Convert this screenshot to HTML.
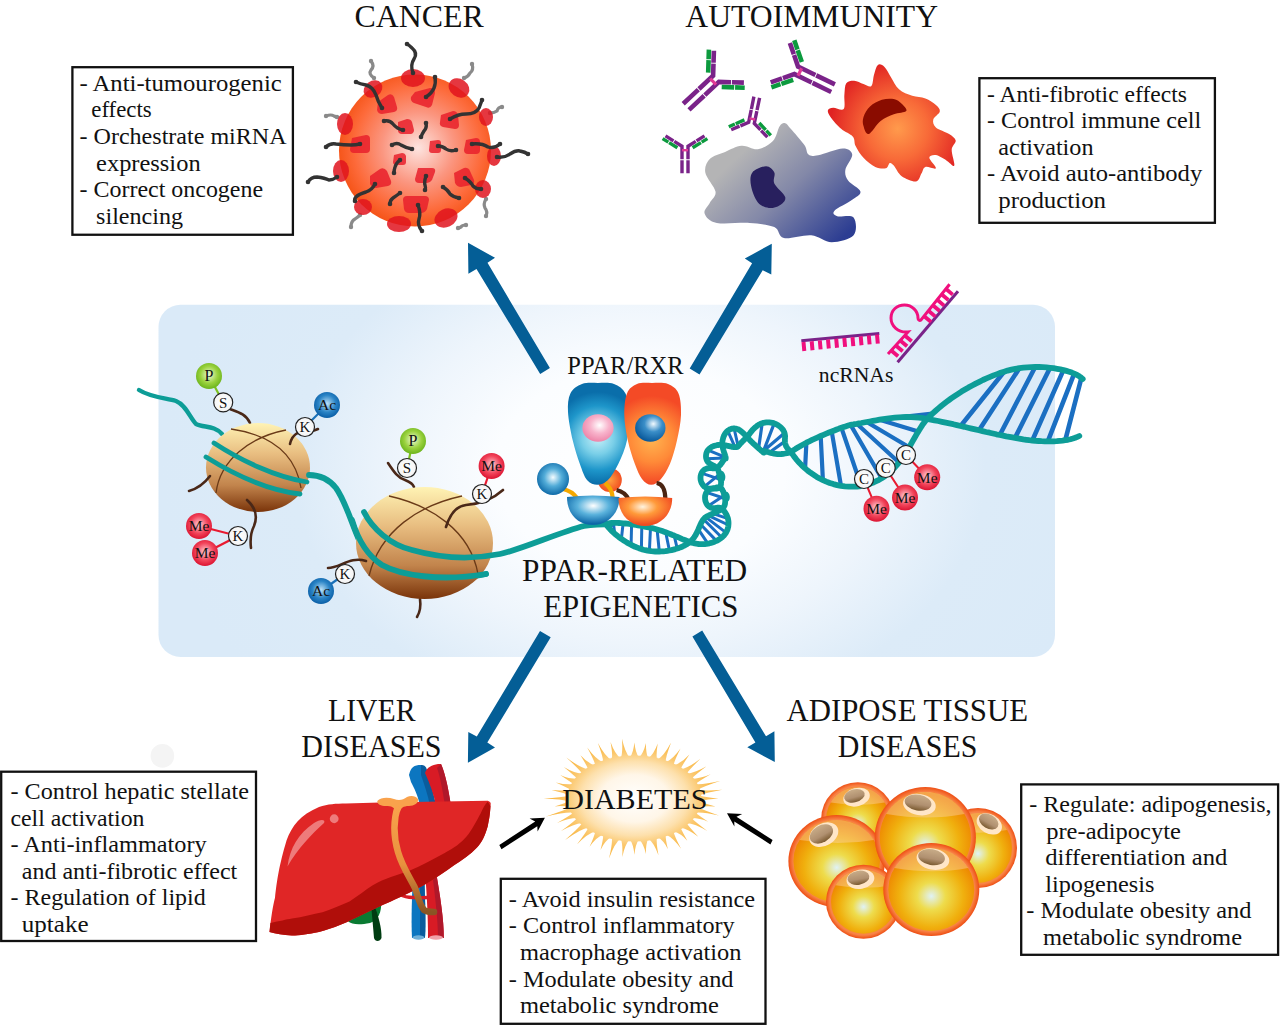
<!DOCTYPE html>
<html><head><meta charset="utf-8">
<style>
html,body{margin:0;padding:0;background:#fff;width:1280px;height:1025px;overflow:hidden}
svg{display:block}
text{font-family:"Liberation Serif",serif;fill:#111}
.bx{fill:none;stroke:#111;stroke-width:2.3}
.t{font-size:22.8px}
.h{font-size:32px}
.sm{font-size:14px;text-anchor:middle}
</style></head>
<body>
<svg width="1280" height="1025" viewBox="0 0 1280 1025">
<defs>
<radialGradient id="bg" cx="640" cy="470" r="480" gradientUnits="userSpaceOnUse" gradientTransform="translate(640 470) scale(1 0.72) translate(-640 -470)">
<stop offset="0" stop-color="#ffffff"/><stop offset="0.3" stop-color="#fbfdff"/><stop offset="0.5" stop-color="#eef5fc"/><stop offset="0.72" stop-color="#dcebf8"/><stop offset="1" stop-color="#daeaf8"/>
</radialGradient>
</defs>
<!-- BACKGROUND -->
<rect x="158.5" y="304.8" width="896.5" height="352.2" rx="22" fill="url(#bg)"/>
<circle cx="162.4" cy="755.9" r="11.8" fill="#f4f4f4"/>

<!--ILLUSTRATIONS-->
<!-- CANCER CELL -->
<g id="cancer">
<g stroke="#8a8a8a" stroke-width="3.2" fill="none" stroke-linecap="round">
<path d="M371,61 q4,5 0,9 q-3,4 3,8"/>
<path d="M472,64 q2,6 -2,9 q-2,4 -6,5"/>
<path d="M502,107 q-4,0 -5,4 q-3,2 -7,2"/>
<path d="M326,116 q5,-2 8,0 q2,1 3,1"/>
<path d="M486,199 q-3,5 -1,9 q3,4 1,8"/>
<path d="M351,227 q0,-6 4,-8 q3,-2 5,-4"/>
<path d="M466,225 q-4,0 -5,2 q-2,1 -3,1"/>
</g>
<g fill="#8a8a8a"><circle cx="371.0" cy="61.0" r="2.2"/><circle cx="374.0" cy="78.0" r="2.2"/><circle cx="472.0" cy="64.0" r="2.2"/><circle cx="464.0" cy="78.0" r="2.2"/><circle cx="502.0" cy="107.0" r="2.2"/><circle cx="490.0" cy="113.0" r="2.2"/><circle cx="326.0" cy="116.0" r="2.2"/><circle cx="337.0" cy="117.0" r="2.2"/><circle cx="486.0" cy="199.0" r="2.2"/><circle cx="486.0" cy="216.0" r="2.2"/><circle cx="351.0" cy="227.0" r="2.2"/><circle cx="360.0" cy="215.0" r="2.2"/><circle cx="466.0" cy="225.0" r="2.2"/><circle cx="458.0" cy="228.0" r="2.2"/></g>

<defs>
<radialGradient id="cg" cx="418" cy="148" r="80" gradientUnits="userSpaceOnUse">
<stop offset="0" stop-color="#fde4e0"/><stop offset="0.45" stop-color="#fb9680"/><stop offset="0.8" stop-color="#fd6a3a"/><stop offset="1" stop-color="#f55418"/>
</radialGradient>
</defs>
<circle cx="415" cy="150.5" r="76" fill="url(#cg)"/>
<g fill="#e0141f" fill-opacity="0.85">
<ellipse cx="413" cy="78" rx="12" ry="9"/>
<ellipse cx="459" cy="88" rx="11" ry="9" transform="rotate(35 459 88)"/>
<ellipse cx="373" cy="89" rx="10" ry="8" transform="rotate(-35 373 89)"/>
<ellipse cx="486" cy="117" rx="7" ry="9"/>
<ellipse cx="345" cy="124" rx="8" ry="11"/>
<ellipse cx="494" cy="156" rx="7" ry="10"/>
<ellipse cx="341" cy="171" rx="8" ry="11"/>
<ellipse cx="483" cy="189" rx="8" ry="9"/>
<ellipse cx="363" cy="207" rx="9" ry="8"/>
<ellipse cx="399" cy="224" rx="12" ry="8"/>
<ellipse cx="446" cy="218" rx="12" ry="9" transform="rotate(-25 446 218)"/>
</g>
<g fill="#e8202c" fill-opacity="0.85">
<path d="M415,92 l15,-4 q5,0 5,5 l-3,12 q-2,4 -6,2 l-12,-4 q-4,-2 -3,-6 z"/>
<path d="M378,102 l10,-7 q4,-2 6,2 l3,10 q1,4 -3,5 l-12,2 q-4,0 -5,-4 z"/>
<path d="M441,115 l12,-4 q4,0 5,4 l1,10 q0,4 -4,4 l-12,-2 q-4,-1 -3,-5 z"/>
<path d="M398,122 l9,-3 q4,0 5,3 l2,8 q0,3 -3,4 l-9,0 q-4,0 -4,-4 z"/>
<path d="M352,138 l14,-3 q4,0 4,4 v10 q0,4 -4,4 h-12 q-4,0 -4,-4 z"/>
<path d="M466,140 l10,-2 q4,0 4,4 v8 q0,4 -4,4 h-8 q-4,0 -4,-4 z"/>
<path d="M430,141 l8,-1 q3,0 3,3 v7 q0,3 -3,3 h-6 q-3,0 -3,-3 z"/>
<path d="M394,155 l8,-2 q3,0 4,3 l0,6 q0,3 -3,3 h-7 q-3,0 -3,-3 z"/>
<path d="M370,176 l10,-7 q4,-2 7,2 l4,10 q1,4 -3,5 l-12,2 q-4,0 -6,-4 z"/>
<path d="M418,168 h14 q4,0 3,4 l-3,8 q-2,3 -5,3 h-8 q-4,0 -4,-4 z"/>
<path d="M454,173 l10,-5 q4,-1 6,3 l4,9 q1,4 -3,5 l-10,2 q-4,0 -6,-4 z"/>
<path d="M407,196 h18 q4,0 4,4 l-2,9 q-2,4 -6,4 h-12 q-4,0 -5,-4 l-1,-9 q0,-4 4,-4 z"/>
</g>
<g stroke="#333" stroke-width="3.4" fill="none" stroke-linecap="round">
<path d="M413,73 q-3,-8 1,-14 q4,-6 -2,-11 q-3,-3 -5,-4"/>
<path d="M426,97 q6,-4 8,-9 q2,-5 1,-11"/>
<path d="M382,108 q-4,-6 -6,-13 q-3,-8 -10,-10 q-6,-1 -10,-3"/>
<path d="M450,119 q8,-5 16,-5 q10,0 13,-6 q2,-5 3,-8"/>
<path d="M384,121 q6,-1 9,3 q4,5 10,6"/>
<path d="M426,123 q1,5 -2,8 q-2,3 -3,6"/>
<path d="M326,147 q4,-4 10,-3 q8,1 15,1 q5,0 9,-1"/>
<path d="M392,145 q5,-3 9,0 q5,3 11,4"/>
<path d="M438,146 q5,0 8,3 q4,3 10,1"/>
<path d="M472,144 q10,-1 16,3 q6,2 12,-3"/>
<path d="M497,157 q8,1 13,-3 q6,-4 10,-3 q5,1 8,3"/>
<path d="M308,182 q3,-5 9,-5 q8,1 12,3 q4,0 8,-3"/>
<path d="M400,160 q-4,3 -5,7 q-1,3 -1,6"/>
<path d="M426,176 q-2,6 -1,9 q1,3 0,5"/>
<path d="M375,184 q-3,6 -9,8 q-7,2 -10,5 q-2,2 -1,4"/>
<path d="M465,178 q6,4 8,8 q3,3 8,3"/>
<path d="M443,187 q5,3 7,7 q3,3 9,4"/>
<path d="M400,193 q-4,3 -7,5 q-3,2 -3,6"/>
<path d="M418,205 q3,8 1,14 q-2,6 3,12"/>
</g>
<g fill="#333"><circle cx="413.0" cy="73.0" r="2.3"/><circle cx="407.0" cy="44.0" r="2.3"/><circle cx="426.0" cy="97.0" r="2.3"/><circle cx="435.0" cy="77.0" r="2.3"/><circle cx="382.0" cy="108.0" r="2.3"/><circle cx="356.0" cy="82.0" r="2.3"/><circle cx="450.0" cy="119.0" r="2.3"/><circle cx="482.0" cy="100.0" r="2.3"/><circle cx="384.0" cy="121.0" r="2.3"/><circle cx="403.0" cy="130.0" r="2.3"/><circle cx="426.0" cy="123.0" r="2.3"/><circle cx="421.0" cy="137.0" r="2.3"/><circle cx="326.0" cy="147.0" r="2.3"/><circle cx="360.0" cy="144.0" r="2.3"/><circle cx="392.0" cy="145.0" r="2.3"/><circle cx="412.0" cy="149.0" r="2.3"/><circle cx="438.0" cy="146.0" r="2.3"/><circle cx="456.0" cy="150.0" r="2.3"/><circle cx="472.0" cy="144.0" r="2.3"/><circle cx="500.0" cy="144.0" r="2.3"/><circle cx="497.0" cy="157.0" r="2.3"/><circle cx="528.0" cy="154.0" r="2.3"/><circle cx="308.0" cy="182.0" r="2.3"/><circle cx="337.0" cy="177.0" r="2.3"/><circle cx="400.0" cy="160.0" r="2.3"/><circle cx="394.0" cy="173.0" r="2.3"/><circle cx="426.0" cy="176.0" r="2.3"/><circle cx="425.0" cy="190.0" r="2.3"/><circle cx="375.0" cy="184.0" r="2.3"/><circle cx="355.0" cy="201.0" r="2.3"/><circle cx="465.0" cy="178.0" r="2.3"/><circle cx="481.0" cy="189.0" r="2.3"/><circle cx="443.0" cy="187.0" r="2.3"/><circle cx="459.0" cy="198.0" r="2.3"/><circle cx="400.0" cy="193.0" r="2.3"/><circle cx="390.0" cy="204.0" r="2.3"/><circle cx="418.0" cy="205.0" r="2.3"/><circle cx="422.0" cy="231.0" r="2.3"/></g>
</g>

<!-- AUTOIMMUNITY -->
<g id="autoimm">
<defs>
<linearGradient id="gb" x1="745" y1="150" x2="835" y2="245" gradientUnits="userSpaceOnUse">
<stop offset="0" stop-color="#b4b4b5"/><stop offset="0.45" stop-color="#8388a8"/><stop offset="1" stop-color="#2c3d92"/>
</linearGradient>
<radialGradient id="og" cx="897.7" cy="128.8" r="68" gradientUnits="userSpaceOnUse">
<stop offset="0" stop-color="#ff9a4c"/><stop offset="0.45" stop-color="#f86a38"/><stop offset="1" stop-color="#e02222"/>
</radialGradient>
</defs>
<path d="M713.9,50.8 L713.1,75.7 L683.2,103.8" stroke="#7a2389" stroke-width="4.6" fill="none" stroke-linejoin="miter" stroke-dasharray="12.0 0.9 31.4 0.9 200"/>
<path d="M708.2,72.6 L708.9,49.6" stroke="#0c9a3e" stroke-width="4.6" fill="none" stroke-dasharray="12.5 0.9 100"/>
<path d="M743.9,82.6 L718.9,81.9 L689.0,109.9" stroke="#7a2389" stroke-width="4.6" fill="none" stroke-linejoin="miter" stroke-dasharray="12.0 0.9 31.4 0.9 200"/>
<path d="M721.7,87.0 L744.7,87.7" stroke="#0c9a3e" stroke-width="4.6" fill="none" stroke-dasharray="12.5 0.9 100"/>
<path d="M710.2,78.5 L716.0,84.6" stroke="#e03a96" stroke-width="3.2"/>
<path d="M770.7,82.3 L794.4,74.1 L831.2,92.0" stroke="#7a2389" stroke-width="4.6" fill="none" stroke-linejoin="miter" stroke-dasharray="12.0 0.9 31.4 0.9 200"/>
<path d="M793.2,79.8 L771.4,87.3" stroke="#0c9a3e" stroke-width="4.6" fill="none" stroke-dasharray="12.5 0.9 100"/>
<path d="M789.9,42.9 L798.0,66.5 L834.9,84.4" stroke="#7a2389" stroke-width="4.6" fill="none" stroke-linejoin="miter" stroke-dasharray="12.0 0.9 31.4 0.9 200"/>
<path d="M801.8,62.1 L794.3,40.3" stroke="#0c9a3e" stroke-width="4.6" fill="none" stroke-dasharray="12.5 0.9 100"/>
<path d="M798.0,75.8 L801.6,68.3" stroke="#e03a96" stroke-width="3.2"/>
<path d="M767.4,137.2 L754.3,123.4 L759.6,97.9" stroke="#7a2389" stroke-width="3.4" fill="none" stroke-linejoin="miter" stroke-dasharray="9.1 0.9 21.6 0.9 200"/>
<path d="M759.2,123.0 L770.8,135.3" stroke="#0c9a3e" stroke-width="3.4" fill="none" stroke-dasharray="9.5 0.9 100"/>
<path d="M731.2,129.8 L748.7,122.2 L753.9,96.7" stroke="#7a2389" stroke-width="3.4" fill="none" stroke-linejoin="miter" stroke-dasharray="9.1 0.9 21.6 0.9 200"/>
<path d="M744.4,119.9 L728.8,126.7" stroke="#0c9a3e" stroke-width="3.4" fill="none" stroke-dasharray="9.5 0.9 100"/>
<path d="M755.1,119.5 L749.5,118.3" stroke="#e03a96" stroke-width="2.4"/>
<path d="M665.5,135.9 L682.0,146.2 L682.0,173.2" stroke="#7a2389" stroke-width="3.4" fill="none" stroke-linejoin="miter" stroke-dasharray="9.4 0.9 22.3 0.9 200"/>
<path d="M677.4,147.8 L662.6,138.6" stroke="#0c9a3e" stroke-width="3.4" fill="none" stroke-dasharray="9.8 0.9 100"/>
<path d="M704.5,135.9 L688.0,146.2 L688.0,173.2" stroke="#7a2389" stroke-width="3.4" fill="none" stroke-linejoin="miter" stroke-dasharray="9.4 0.9 22.3 0.9 200"/>
<path d="M692.6,147.8 L707.4,138.6" stroke="#0c9a3e" stroke-width="3.4" fill="none" stroke-dasharray="9.8 0.9 100"/>
<path d="M682.0,150.2 L688.0,150.2" stroke="#e03a96" stroke-width="2.4"/>
<path fill="url(#gb)" d="M785.2,123.2 C787.1,123.7 787.5,125.0 790.7,128.7 C793.9,132.3 801.4,140.7 804.4,145.1 C807.3,149.4 806.2,152.9 808.5,154.6 C810.8,156.4 812.4,156.4 818.1,155.3 C823.7,154.3 837.0,148.6 842.7,148.5 C848.4,148.4 851.8,151.1 852.2,154.6 C852.7,158.2 846.1,165.4 845.4,169.7 C844.7,174.0 845.6,177.0 848.1,180.6 C850.6,184.3 859.8,188.4 860.4,191.6 C861.1,194.8 856.6,196.6 852.2,199.8 C847.9,203.0 837.0,208.0 834.5,210.7 C832.0,213.4 834.0,215.0 837.2,216.2 C840.4,217.3 850.9,214.4 853.6,217.5 C856.3,220.7 857.2,231.2 853.6,235.3 C850.0,239.4 838.8,242.2 831.7,242.2 C824.7,242.2 819.2,236.0 811.2,235.3 C803.2,234.6 790.0,239.4 783.9,238.1 C777.7,236.7 780.0,229.6 774.3,227.1 C768.6,224.6 759.3,223.7 749.7,223.0 C740.1,222.3 724.4,224.6 716.9,223.0 C709.4,221.4 705.7,216.9 704.6,213.4 C703.4,210.0 708.2,206.1 710.0,202.5 C711.9,198.9 716.3,196.6 715.5,191.6 C714.7,186.6 706.2,177.9 705.3,172.4 C704.3,167.0 706.7,162.2 710.0,158.8 C713.3,155.3 719.8,154.1 725.1,151.9 C730.3,149.8 736.0,146.2 741.5,145.8 C747.0,145.3 752.7,150.0 757.9,149.2 C763.1,148.4 769.3,144.9 772.9,141.0 C776.6,137.1 777.7,128.9 779.8,125.9 C781.8,123.0 783.4,122.7 785.2,123.2 Z"/>
<path fill="#28205e" d="M752.4,172.4 C754.9,169.1 762.5,166.3 766.1,166.3 C769.7,166.3 772.9,169.6 774.3,172.4 C775.7,175.3 772.5,179.3 774.3,183.4 C776.1,187.5 784.3,193.4 785.2,197.0 C786.1,200.7 782.5,203.4 779.8,205.2 C777.0,207.1 772.5,208.4 768.8,208.0 C765.2,207.5 760.9,206.1 757.9,202.5 C754.9,198.9 752.0,191.1 751.1,186.1 C750.1,181.1 749.9,175.7 752.4,172.4 Z"/>
<path fill="url(#og)" d="M827.9,110.3 C828.3,108.8 830.5,107.9 833.2,107.7 C835.8,107.5 841.8,111.2 843.7,109.0 C845.6,106.8 843.9,98.8 844.4,94.5 C844.8,90.2 844.7,85.6 846.3,83.3 C848.0,81.0 851.4,80.6 854.2,80.7 C857.1,80.8 860.6,83.1 863.5,84.0 C866.3,84.9 869.6,87.5 871.4,85.9 C873.1,84.4 872.9,78.3 874.0,74.8 C875.1,71.2 876.2,66.2 877.9,64.9 C879.7,63.6 882.3,64.8 884.5,66.9 C886.7,68.9 888.7,73.7 891.1,77.4 C893.5,81.1 895.5,86.2 899.0,89.2 C902.5,92.3 907.8,94.3 912.2,95.8 C916.6,97.4 921.4,96.9 925.4,98.5 C929.3,100.0 933.5,102.9 935.9,105.0 C938.3,107.2 940.3,109.2 939.8,111.6 C939.4,114.0 933.9,116.9 933.3,119.5 C932.6,122.2 933.3,125.0 935.9,127.4 C938.5,129.8 945.8,131.8 949.1,134.0 C952.4,136.2 955.2,138.0 955.7,140.6 C956.1,143.2 951.9,145.7 951.7,149.8 C951.5,154.0 955.2,163.9 954.3,165.6 C953.5,167.4 949.5,162.1 946.4,160.4 C943.4,158.6 938.7,155.5 935.9,155.1 C933.0,154.7 929.3,155.5 929.3,157.7 C929.3,159.9 936.6,166.7 935.9,168.3 C935.2,169.8 927.8,166.1 925.4,166.9 C922.9,167.8 922.9,171.1 921.4,173.5 C919.9,175.9 919.4,181.0 916.1,181.4 C912.8,181.9 905.4,178.8 901.7,176.2 C897.9,173.5 895.7,167.8 893.8,165.6 C891.8,163.4 891.1,162.6 889.8,163.0 C888.5,163.4 888.3,167.6 885.9,168.3 C883.4,168.9 879.0,168.7 875.3,166.9 C871.6,165.2 866.8,161.2 863.5,157.7 C860.2,154.2 857.3,149.4 855.6,145.9 C853.8,142.4 855.3,139.5 852.9,136.7 C850.5,133.8 844.8,132.0 841.1,128.8 C837.3,125.5 832.7,120.0 830.5,116.9 C828.3,113.8 827.5,111.9 827.9,110.3 Z"/>
<path fill="#8a0c00" d="M863.5,116.9 C864.6,113.6 867.0,109.2 870.0,106.4 C873.1,103.5 877.9,101.0 881.9,99.8 C885.9,98.6 890.5,98.5 893.8,99.1 C897.0,99.8 899.6,101.8 901.7,103.7 C903.7,105.7 907.6,109.2 906.3,111.0 C904.9,112.7 898.0,112.6 893.8,114.3 C889.5,115.9 884.8,117.6 880.6,120.9 C876.4,124.1 871.6,133.1 868.7,134.0 C865.9,134.9 864.3,129.0 863.5,126.1 C862.6,123.3 862.4,120.2 863.5,116.9 Z"/>
</g>

<g id="center">
<defs>
<linearGradient id="nuc" x1="0" y1="0" x2="0" y2="1">
<stop offset="0" stop-color="#fff3b4"/><stop offset="0.35" stop-color="#e8bd80"/><stop offset="0.7" stop-color="#c2844c"/><stop offset="1" stop-color="#7a340a"/>
</linearGradient>
<radialGradient id="gP" cx="0.5" cy="0.45" r="0.55"><stop offset="0" stop-color="#eefad8"/><stop offset="0.6" stop-color="#9ad23e"/><stop offset="1" stop-color="#6cb41c"/></radialGradient>
<radialGradient id="gAc" cx="0.5" cy="0.45" r="0.55"><stop offset="0" stop-color="#bfe2f7"/><stop offset="0.6" stop-color="#2a84c6"/><stop offset="1" stop-color="#0a5ea6"/></radialGradient>
<radialGradient id="gMe" cx="0.5" cy="0.45" r="0.55"><stop offset="0" stop-color="#ffd0d8"/><stop offset="0.6" stop-color="#f2465c"/><stop offset="1" stop-color="#dc1432"/></radialGradient>
<radialGradient id="gW" cx="0.5" cy="0.5" r="0.5"><stop offset="0" stop-color="#ffffff"/><stop offset="1" stop-color="#f4f4f4"/></radialGradient>
<radialGradient id="ppb" cx="598" cy="438" r="46" gradientUnits="userSpaceOnUse"><stop offset="0" stop-color="#c8f0f8"/><stop offset="0.35" stop-color="#7acfe8"/><stop offset="0.7" stop-color="#1e96ca"/><stop offset="1" stop-color="#0a6eaa"/></radialGradient>
<radialGradient id="ppo" cx="652" cy="440" r="44" gradientUnits="userSpaceOnUse"><stop offset="0" stop-color="#ffb450"/><stop offset="0.5" stop-color="#ff8a38"/><stop offset="1" stop-color="#f44a26"/></radialGradient>
<radialGradient id="gpink" cx="0.55" cy="0.4" r="0.6"><stop offset="0" stop-color="#ffffff"/><stop offset="0.5" stop-color="#f8b4cc"/><stop offset="1" stop-color="#ee86aa"/></radialGradient>
<radialGradient id="gblu" cx="0.6" cy="0.35" r="0.65"><stop offset="0" stop-color="#f2faff"/><stop offset="0.45" stop-color="#3a8ec8"/><stop offset="1" stop-color="#0a5a9c"/></radialGradient>
<radialGradient id="gsph" cx="0.5" cy="0.45" r="0.55"><stop offset="0" stop-color="#f4fcff"/><stop offset="0.5" stop-color="#52acd8"/><stop offset="1" stop-color="#0e6aa8"/></radialGradient>
<radialGradient id="gbowlb" cx="0.5" cy="0.35" r="0.6"><stop offset="0" stop-color="#ffffff"/><stop offset="0.5" stop-color="#5ab2dc"/><stop offset="1" stop-color="#0e68a8"/></radialGradient>
<radialGradient id="gbowlo" cx="0.45" cy="0.35" r="0.6"><stop offset="0" stop-color="#fff4e0"/><stop offset="0.45" stop-color="#ff9a3a"/><stop offset="1" stop-color="#f24c22"/></radialGradient>
<radialGradient id="gorsm" cx="0.5" cy="0.5" r="0.5"><stop offset="0" stop-color="#ffa040"/><stop offset="1" stop-color="#f25022"/></radialGradient>
</defs>
<path d="M139,390 C150,397 165,398 176,401 C186,405 190,418 196,424 C204,428 214,425 222,434" stroke="#0d9d97" stroke-width="4.4" fill="none" stroke-linecap="round"/>
<path d="M250,423 C246,414 238,412 230,409" stroke="#4a2818" stroke-width="2.6" fill="none" stroke-linecap="round"/>
<ellipse cx="258" cy="467.5" rx="52" ry="44.5" fill="url(#nuc)"/>
<path d="M290,444 C292,434 300,430 310,431 C314,431 316,430 318,429" stroke="#4a2818" stroke-width="2.6" fill="none" stroke-linecap="round"/>
<path d="M189,491 C196,489 204,484 210,476" stroke="#4a2818" stroke-width="2.6" fill="none" stroke-linecap="round"/>
<path d="M247,500 C256,508 258,516 254,526 C250,534 250,540 251,548" stroke="#4a2818" stroke-width="2.6" fill="none" stroke-linecap="round"/>
<path d="M231,429 C265,434 295,450 301,488 M286,430 C250,437 220,460 216,493" stroke="#6a3a18" stroke-width="1.3" fill="none"/>
<path d="M214,443 C240,460 275,477 307,482" stroke="#0d9d97" stroke-width="4.8" fill="none" stroke-linecap="round"/>
<path d="M206,457 C230,472 265,490 300,494" stroke="#0d9d97" stroke-width="4.8" fill="none" stroke-linecap="round"/>
<path d="M309,475 C318,475 328,478 336,488 C346,502 352,525 360,542 C368,556 382,568 400,572 C420,578 450,582 486,574" stroke="#0d9d97" stroke-width="5.8" fill="none" stroke-linecap="round"/>
<path d="M388,463 C394,472 398,478 405,480 C410,482 413,484 414,487" stroke="#4a2818" stroke-width="2.6" fill="none" stroke-linecap="round"/>
<path d="M420,599 C421,606 420,612 417,617" stroke="#4a2818" stroke-width="2.6" fill="none" stroke-linecap="round"/>
<ellipse cx="424.5" cy="543" rx="68.5" ry="56" fill="url(#nuc)"/>
<path d="M328,568 C340,568 350,556 366,561" stroke="#4a2818" stroke-width="2.6" fill="none" stroke-linecap="round"/>
<path d="M389,496 C430,505 470,530 478,574 M462,496 C420,505 380,530 369,576" stroke="#6a3a18" stroke-width="1.3" fill="none"/>
<path d="M446,527 C450,514 456,506 466,505 C478,504 492,500 503,490" stroke="#4a2818" stroke-width="2.6" fill="none" stroke-linecap="round"/>
<path d="M352,520 C358,540 368,556 382,565 C400,575 440,582 486,574" stroke="#0d9d97" stroke-width="5.8" fill="none" stroke-linecap="round"/>
<path d="M364,512 C372,528 390,545 412,550 C440,558 470,560 500,554 C520,550 560,532 584,526 C596,524 604,524 612,524" stroke="#0d9d97" stroke-width="5.8" fill="none" stroke-linecap="round"/>
<path d="M209,376 L223,402" stroke="#7cc21e" stroke-width="2.2" fill="none"/>
<path d="M327,405 L305,427" stroke="#1a70b8" stroke-width="2.2" fill="none"/>
<path d="M199,526 L238,536 L205,553" stroke="#e81a30" stroke-width="2.2" fill="none"/>
<path d="M413,441 L407,468" stroke="#7cc21e" stroke-width="2.2" fill="none"/>
<path d="M491.6,466 L482,494" stroke="#e81a30" stroke-width="2.2" fill="none"/>
<path d="M345,574 L321,591" stroke="#1a70b8" stroke-width="2.2" fill="none"/>
<circle cx="209" cy="376" r="13" fill="url(#gP)"/><text x="209" y="381.4" style="font-size:16px" text-anchor="middle">P</text>
<circle cx="223.2" cy="402.4" r="9.5" fill="url(#gW)" stroke="#222" stroke-width="1.2"/><text x="223.2" y="407.5" style="font-size:15px" text-anchor="middle">S</text>
<circle cx="327" cy="405" r="13" fill="url(#gAc)"/><text x="327" y="410.3" style="font-size:15.5px" text-anchor="middle">Ac</text>
<circle cx="305" cy="427" r="9.5" fill="url(#gW)" stroke="#222" stroke-width="1.2"/><text x="305" y="432.1" style="font-size:15px" text-anchor="middle">K</text>
<circle cx="199" cy="526" r="13" fill="url(#gMe)"/><text x="199" y="531.3" style="font-size:15.5px" text-anchor="middle">Me</text>
<circle cx="238" cy="536" r="9.5" fill="url(#gW)" stroke="#222" stroke-width="1.2"/><text x="238" y="541.1" style="font-size:15px" text-anchor="middle">K</text>
<circle cx="205" cy="553" r="13" fill="url(#gMe)"/><text x="205" y="558.3" style="font-size:15.5px" text-anchor="middle">Me</text>
<circle cx="413" cy="441" r="13" fill="url(#gP)"/><text x="413" y="446.4" style="font-size:16px" text-anchor="middle">P</text>
<circle cx="407" cy="468" r="9.5" fill="url(#gW)" stroke="#222" stroke-width="1.2"/><text x="407" y="473.1" style="font-size:15px" text-anchor="middle">S</text>
<circle cx="491.6" cy="466" r="13" fill="url(#gMe)"/><text x="491.6" y="471.3" style="font-size:15.5px" text-anchor="middle">Me</text>
<circle cx="482" cy="494" r="9.5" fill="url(#gW)" stroke="#222" stroke-width="1.2"/><text x="482" y="499.1" style="font-size:15px" text-anchor="middle">K</text>
<circle cx="345" cy="574" r="9.5" fill="url(#gW)" stroke="#222" stroke-width="1.2"/><text x="345" y="579.1" style="font-size:15px" text-anchor="middle">K</text>
<circle cx="321" cy="591" r="13" fill="url(#gAc)"/><text x="321" y="596.3" style="font-size:15.5px" text-anchor="middle">Ac</text>
<path d="M614.7,533.7 L613.4,522.9 M621.4,538.9 L623.1,523.3 M631.1,544.8 L631.6,524.3 M641.4,549.1 L641.8,526.0 M649.4,550.9 L650.5,527.8 M659.3,551.5 L657.1,529.5 M669.4,550.5 L665.7,532.3 M677.2,548.5 L674.2,535.6 M698.4,529.4 L707.9,543.6 M700.5,524.3 L716.5,540.9 M703.5,519.3 L721.8,537.5 M705.8,517.1 L726.0,532.6 M708.5,515.6 L728.4,525.0 M713.0,513.6 L728.0,518.7 M725.6,494.4 L708.2,505.9 M726.4,499.0 L706.5,492.3 M704.4,486.6 L720.6,473.4 M701.5,473.2 L721.5,479.8 M725.2,458.1 L706.3,458.7 M725.7,457.4 L708.0,450.1 M727.8,430.8 L735.0,447.2 M734.1,428.5 L738.1,446.2" stroke="#1b6fc2" stroke-width="3" fill="none"/>
<path d="M758.6,448.2 L762.2,423.2 M763.1,452.1 L774.2,423.4 M763.1,451.3 L784.5,433.0 M769.3,452.5 L784.9,441.4" stroke="#1b6fc2" stroke-width="3.2" fill="none"/>
<path d="M806.4,442.7 L805.1,468.4 M820.7,436.0 L822.9,480.1 M831.7,431.5 L841.0,485.9 M841.4,427.8 L861.2,486.0 M850.6,424.9 L881.6,478.3 M856.8,423.8 L899.0,462.5 M866.7,422.0 L909.2,447.3 M879.6,419.7 L918.3,431.4 M898.8,417.3 L932.5,413.6" stroke="#1b6fc2" stroke-width="4.2" fill="none"/>
<path d="M960.6,426.0 L1004.1,371.7 M979.0,430.3 L1019.4,368.2 M999.8,435.0 L1035.2,367.0 M1015.0,437.9 L1050.1,367.8 M1032.3,440.5 L1063.4,370.1 M1047.8,441.4 L1074.2,373.6 M1065.3,440.2 L1081.4,377.9" stroke="#1b6fc2" stroke-width="4.6" fill="none"/>
<path d="M606.0,524.0 L606.7,525.1 L607.5,526.2 L608.4,527.3 L609.5,528.5 L610.6,529.8 L611.9,531.1 L613.3,532.4 L614.7,533.7 L616.3,535.0 L617.9,536.3 L619.6,537.6 L621.4,538.9 L623.3,540.2 L625.2,541.4 L627.1,542.6 L629.1,543.7 L631.1,544.8 L633.2,545.8 L635.2,546.8 L637.3,547.6 L639.4,548.4 L641.4,549.1 L643.5,549.7 L645.5,550.2 L647.5,550.6 L649.4,550.9 L651.3,551.2 L653.3,551.3 L655.3,551.5 L657.3,551.5 L659.3,551.5 L661.4,551.4 L663.4,551.3 L665.4,551.1 L667.4,550.8 L669.4,550.5 L671.4,550.1 L673.4,549.6 L675.3,549.1 L677.2,548.5 L679.0,547.9 L680.8,547.2 L682.6,546.5 L684.2,545.7 L685.8,544.8 L687.3,543.9 L688.7,543.0 L690.0,542.0 L691.2,540.9 L692.2,539.8 L693.2,538.6 L694.1,537.4 L694.9,536.2 L695.6,535.1 L696.2,533.9 L696.8,532.7 L697.4,531.6 L697.9,530.5 L698.4,529.4 L698.8,528.3 L699.2,527.3 L699.7,526.3 L700.1,525.3 L700.5,524.3 L701.0,523.4 L701.4,522.5 L701.9,521.7 L702.4,520.9 L702.9,520.1 L703.5,519.3 L704.1,518.6 L704.6,518.0 L705.0,517.6 L705.4,517.3 L705.8,517.1 L706.2,516.8 L706.7,516.5 L707.3,516.2 L707.8,515.9 L708.5,515.6 L709.1,515.3 L709.8,515.0 L710.6,514.7 L711.3,514.3 L712.2,514.0 L713.0,513.6 L713.8,513.2 L714.7,512.8 L715.6,512.4 L716.5,511.9 L717.4,511.5 L718.4,511.0 L719.3,510.5 L720.2,510.0 L721.1,509.5 L722.0,509.0 L722.7,508.4 L723.4,507.6 L723.9,506.8 L724.4,505.8 L724.7,504.8 L725.0,503.8 L725.1,502.7 L725.2,501.7 L725.3,500.7 L725.2,499.7 L725.2,498.8 L725.1,497.9 L725.1,497.1 L725.1,496.4 L725.1,495.8 L725.1,495.2 L725.2,494.8 L725.3,494.5 L725.6,494.4 L725.8,494.4 L726.1,494.7 L726.5,495.2 L726.7,495.9 L726.9,496.7 L726.9,497.5 L726.8,498.2 L726.7,498.7 L726.4,499.0 L726.1,499.2 L725.9,499.2 L725.6,499.0 L725.4,498.7 L725.2,498.3 L725.0,497.8 L724.8,497.2 L724.6,496.5 L724.4,495.8 L724.2,495.0 L724.0,494.2 L723.8,493.3 L723.5,492.4 L723.2,491.5 L722.7,490.6 L722.3,489.8 L721.7,489.0 L721.0,488.4 L720.3,487.8 L719.5,487.5 L718.7,487.3 L717.9,487.3 L717.1,487.4 L716.4,487.6 L715.7,487.8 L714.9,488.0 L714.2,488.2 L713.5,488.3 L712.7,488.5 L712.0,488.6 L711.2,488.7 L710.4,488.7 L709.6,488.7 L708.8,488.6 L707.9,488.4 L707.1,488.1 L706.2,487.7 L705.3,487.2 L704.4,486.6 L703.5,485.7 L702.6,484.6 L701.8,483.3 L701.1,481.6 L700.6,479.7 L700.5,477.8 L700.6,476.1 L701.0,474.5 L701.5,473.2 L702.1,472.1 L702.8,471.1 L703.6,470.4 L704.3,469.8 L705.1,469.3 L705.8,468.9 L706.6,468.6 L707.3,468.4 L708.1,468.3 L708.8,468.2 L709.6,468.2 L710.3,468.2 L711.1,468.2 L711.9,468.2 L712.6,468.3 L713.4,468.3 L714.2,468.3 L715.0,468.2 L715.8,468.1 L716.6,467.8 L717.3,467.4 L718.0,467.0 L718.7,466.4 L719.3,465.9 L719.9,465.2 L720.5,464.6 L721.0,463.9 L721.5,463.2 L722.0,462.6 L722.4,461.9 L722.8,461.3 L723.2,460.7 L723.5,460.2 L723.9,459.7 L724.2,459.2 L724.5,458.8 L724.8,458.5 L725.0,458.3 L725.2,458.1 L725.4,458.1 L725.6,458.1 L725.7,458.1 L725.7,458.3 L725.7,458.4 L725.7,458.2 L725.7,458.0 L725.7,457.7 L725.7,457.4 L725.6,457.1 L725.5,456.7 L725.4,456.3 L725.2,455.8 L725.1,455.4 L724.9,454.9 L724.7,454.3 L724.6,453.8 L724.4,453.2 L724.1,452.5 L723.9,451.9 L723.7,451.2 L723.5,450.5 L723.3,449.8 L723.1,449.0 L722.9,448.2 L722.8,447.5 L722.6,446.7 L722.5,445.8 L722.4,445.0 L722.4,444.2 L722.3,443.3 L722.4,442.5 L722.4,441.6 L722.5,440.8 L722.7,439.9 L722.9,439.1 L723.1,438.3 L723.3,437.5 L723.6,436.7 L723.9,435.9 L724.3,435.1 L724.7,434.4 L725.1,433.7 L725.6,433.0 L726.1,432.4 L726.6,431.8 L727.2,431.3 L727.8,430.8 L728.4,430.3 L729.0,429.9 L729.7,429.5 L730.4,429.2 L731.1,429.0 L731.8,428.7 L732.6,428.6 L733.4,428.5 L734.1,428.5 L734.9,428.5 L735.6,428.6 L736.4,428.8 L737.1,429.0 L737.8,429.2 L738.5,429.5 L739.1,429.9 L739.7,430.3 L740.4,430.7 L741.0,431.2 L741.6,431.7 L742.2,432.2 L742.8,432.8 L743.4,433.3 L744.0,433.9 L744.6,434.5 L745.2,435.1 L745.9,435.8 L746.6,436.4 L747.3,437.0 L748.1,438.0 L748.9,439.0 L749.7,440.0 L750.6,440.9 L751.5,441.8 L752.5,442.7 L753.4,443.6 L754.3,444.4 L755.2,445.3 L756.1,446.0 L757.0,446.8 L757.8,447.5 L758.6,448.2 L759.3,448.9 L760.0,449.5 L760.7,450.0 L761.2,450.6 L761.8,451.0 L762.3,451.4 L762.7,451.8 L763.1,452.1 L763.4,452.4 L763.7,452.5 L763.8,452.6 L763.6,452.5 L763.2,452.2 L763.0,451.9 L763.0,451.6 L763.1,451.3 L763.5,451.1 L764.0,451.1 L764.8,451.2 L765.7,451.4 L766.7,451.7 L768.0,452.1 L769.3,452.5 L770.8,452.9 L772.3,453.3 L774.0,453.7 L775.7,453.9 L777.6,454.1 L779.4,454.1 L781.3,454.0 L783.2,453.8 L785.1,453.5 L787.0,453.1 L789.0,452.6 L791.0,452.0 L793.3,450.4 L795.7,448.8 L798.3,447.2 L800.9,445.7 L803.7,444.2 L806.4,442.7 L809.3,441.3 L812.1,439.9 L815.0,438.6 L817.8,437.3 L820.7,436.0 L823.5,434.8 L826.3,433.6 L829.0,432.5 L831.7,431.5 L834.3,430.5 L836.7,429.5 L839.1,428.6 L841.4,427.8 L843.5,427.1 L845.5,426.4 L847.4,425.8 L849.1,425.3 L850.6,424.9 L851.9,424.6 L853.3,424.4 L854.9,424.1 L856.8,423.8 L858.9,423.4 L861.3,423.0 L863.9,422.5 L866.7,422.0 L869.6,421.5 L872.8,420.9 L876.2,420.3 L879.6,419.7 L883.3,419.1 L887.0,418.6 L890.9,418.1 L894.8,417.7 L898.8,417.3 L902.9,417.1 L907.0,417.0 L911.0,417.1 L915.1,417.3 L919.2,417.7 L923.1,418.2 L927.0,419.0 L930.7,419.6 L934.5,420.3 L938.2,421.0 L941.9,421.8 L945.7,422.6 L949.4,423.4 L953.2,424.2 L956.9,425.1 L960.6,426.0 L964.3,426.8 L968.0,427.7 L971.7,428.6 L975.3,429.4 L979.0,430.3 L982.5,431.1 L986.1,432.0 L989.6,432.7 L993.0,433.5 L996.4,434.3 L999.8,435.0 L1003.1,435.6 L1006.3,436.3 L1009.4,436.8 L1012.4,437.4 L1015.0,437.9 L1017.7,438.4 L1020.5,438.9 L1023.3,439.4 L1026.3,439.8 L1029.3,440.2 L1032.3,440.5 L1035.4,440.8 L1038.5,441.0 L1041.6,441.2 L1044.7,441.3 L1047.8,441.4 L1050.8,441.4 L1053.8,441.3 L1056.8,441.2 L1059.7,440.9 L1062.5,440.6 L1065.3,440.2 L1067.9,439.8 L1070.4,439.2 L1072.9,438.5 L1075.2,437.8 L1077.4,436.9 L1079.3,436.0" stroke="#0d9d97" stroke-width="5.8" fill="none" stroke-linecap="round" stroke-linejoin="round"/>
<path d="M606.0,524.0 L607.2,523.6 L608.6,523.4 L610.1,523.2 L611.7,523.0 L613.4,522.9 L615.2,522.9 L617.1,522.9 L619.0,523.0 L621.1,523.1 L623.1,523.3 L625.2,523.5 L627.3,523.7 L629.4,524.0 L631.6,524.3 L633.7,524.6 L635.8,525.0 L637.9,525.3 L639.9,525.7 L641.8,526.0 L643.7,526.4 L645.6,526.8 L647.3,527.1 L648.9,527.4 L650.5,527.8 L652.1,528.1 L653.7,528.5 L655.4,529.0 L657.1,529.5 L658.8,530.0 L660.5,530.5 L662.3,531.1 L664.0,531.7 L665.7,532.3 L667.4,532.9 L669.1,533.6 L670.8,534.3 L672.5,535.0 L674.2,535.6 L675.8,536.3 L677.5,537.0 L679.1,537.7 L680.7,538.4 L682.3,539.1 L683.9,539.7 L685.4,540.3 L687.0,540.9 L688.5,541.5 L690.0,542.0 L691.5,542.6 L693.1,543.0 L694.7,543.4 L696.4,543.7 L698.0,544.0 L699.7,544.1 L701.4,544.2 L703.0,544.2 L704.7,544.1 L706.3,543.9 L707.9,543.6 L709.4,543.3 L711.0,542.9 L712.4,542.5 L713.8,542.0 L715.2,541.4 L716.5,540.9 L717.7,540.2 L718.8,539.6 L719.9,538.9 L720.9,538.2 L721.8,537.5 L722.6,536.8 L723.4,536.0 L724.3,535.0 L725.2,533.8 L726.0,532.6 L726.6,531.4 L727.2,530.2 L727.7,528.9 L728.0,527.6 L728.3,526.3 L728.4,525.0 L728.5,523.7 L728.5,522.4 L728.4,521.2 L728.2,519.9 L728.0,518.7 L727.6,517.5 L727.2,516.4 L726.7,515.3 L726.2,514.2 L725.6,513.2 L725.0,512.2 L724.3,511.3 L723.6,510.5 L722.8,509.7 L722.0,509.0 L721.3,508.4 L720.5,508.0 L719.8,507.8 L719.0,507.7 L718.3,507.7 L717.5,507.7 L716.8,507.8 L716.1,507.9 L715.5,508.0 L714.8,508.1 L714.1,508.1 L713.4,508.2 L712.7,508.1 L712.0,508.0 L711.3,507.8 L710.5,507.5 L709.8,507.1 L709.0,506.6 L708.2,505.9 L707.4,505.0 L706.6,503.9 L706.0,502.6 L705.4,501.0 L705.1,499.3 L705.0,497.6 L705.1,496.0 L705.5,494.6 L705.9,493.4 L706.5,492.3 L707.1,491.5 L707.7,490.7 L708.4,490.1 L709.1,489.6 L709.8,489.3 L710.5,489.0 L711.1,488.8 L711.8,488.6 L712.5,488.5 L713.2,488.5 L713.9,488.5 L714.6,488.5 L715.3,488.6 L716.0,488.6 L716.7,488.6 L717.4,488.5 L718.1,488.3 L718.9,488.0 L719.5,487.5 L720.1,486.8 L720.5,486.0 L720.8,485.1 L721.0,484.2 L721.0,483.2 L721.1,482.2 L721.0,481.2 L720.9,480.2 L720.8,479.3 L720.7,478.4 L720.5,477.6 L720.4,476.8 L720.3,476.0 L720.2,475.4 L720.2,474.8 L720.2,474.3 L720.2,473.8 L720.4,473.6 L720.6,473.4 L720.9,473.5 L721.3,473.8 L721.7,474.4 L722.1,475.2 L722.4,476.3 L722.4,477.4 L722.3,478.3 L722.1,479.0 L721.8,479.5 L721.5,479.8 L721.1,479.9 L720.8,479.9 L720.6,479.7 L720.4,479.3 L720.2,478.9 L720.0,478.3 L719.8,477.7 L719.7,477.0 L719.6,476.2 L719.5,475.4 L719.3,474.5 L719.2,473.6 L719.0,472.7 L718.7,471.8 L718.5,470.9 L718.1,470.0 L717.7,469.2 L717.2,468.5 L716.6,467.8 L716.0,467.2 L715.4,466.8 L714.8,466.4 L714.2,466.0 L713.5,465.6 L712.9,465.3 L712.2,465.0 L711.6,464.7 L711.0,464.4 L710.4,464.0 L709.8,463.6 L709.3,463.2 L708.7,462.7 L708.2,462.2 L707.7,461.7 L707.3,461.0 L706.9,460.3 L706.6,459.6 L706.3,458.7 L706.1,457.8 L706.0,456.8 L706.0,455.8 L706.1,454.7 L706.3,453.6 L706.5,452.8 L706.8,452.1 L707.1,451.4 L707.5,450.7 L708.0,450.1 L708.5,449.5 L709.0,448.9 L709.6,448.4 L710.2,447.9 L710.9,447.5 L711.6,447.0 L712.3,446.6 L713.1,446.3 L713.9,446.0 L714.7,445.7 L715.5,445.5 L716.4,445.3 L717.2,445.1 L718.1,445.0 L719.0,444.9 L719.8,444.9 L720.7,444.9 L721.6,444.9 L722.4,445.0 L723.2,445.1 L724.0,445.2 L724.8,445.3 L725.6,445.4 L726.4,445.6 L727.1,445.7 L727.8,445.9 L728.6,446.0 L729.3,446.2 L729.9,446.3 L730.6,446.5 L731.2,446.6 L731.8,446.8 L732.4,446.9 L733.0,447.0 L733.5,447.1 L734.1,447.1 L734.5,447.2 L735.0,447.2 L735.4,447.2 L735.8,447.2 L736.2,447.2 L736.6,447.1 L736.9,447.0 L737.2,446.9 L737.4,446.8 L737.7,446.6 L737.9,446.4 L738.1,446.2 L738.4,445.9 L738.6,445.7 L738.9,445.3 L739.2,445.0 L739.5,444.6 L739.9,444.2 L740.3,443.7 L740.7,443.2 L741.2,442.8 L741.7,442.2 L742.2,441.7 L742.7,441.2 L743.3,440.6 L743.9,440.0 L744.6,439.4 L745.2,438.8 L745.9,438.2 L746.6,437.6 L747.3,437.0 L748.0,436.0 L748.7,434.9 L749.5,433.9 L750.2,432.9 L751.0,431.9 L751.8,430.9 L752.6,429.9 L753.5,429.0 L754.4,428.1 L755.4,427.2 L756.4,426.4 L757.4,425.6 L758.5,424.9 L759.7,424.3 L760.9,423.7 L762.2,423.2 L763.5,422.8 L764.9,422.6 L766.4,422.4 L767.8,422.3 L769.3,422.4 L770.9,422.6 L772.5,422.9 L774.2,423.4 L776.2,424.2 L778.1,425.3 L779.8,426.5 L781.3,427.9 L782.5,429.2 L783.4,430.5 L784.1,431.8 L784.5,433.0 L784.8,434.2 L785.0,435.2 L785.1,436.3 L785.0,437.2 L785.0,438.2 L784.9,439.3 L784.9,440.3 L784.9,441.4 L785.0,442.6 L785.3,443.8 L785.7,445.1 L786.3,446.5 L787.1,447.8 L788.2,449.2 L789.5,450.6 L791.0,452.0 L792.6,454.4 L794.3,456.7 L796.1,459.1 L798.1,461.5 L800.3,463.8 L802.6,466.1 L805.1,468.4 L807.7,470.6 L810.5,472.7 L813.4,474.7 L816.4,476.7 L819.6,478.5 L822.9,480.1 L826.3,481.6 L829.8,483.0 L833.4,484.1 L837.2,485.1 L841.0,485.9 L844.9,486.4 L848.9,486.7 L852.9,486.7 L857.0,486.5 L861.2,486.0 L865.4,485.1 L869.8,483.8 L874.0,482.2 L877.9,480.4 L881.6,478.3 L885.1,476.0 L888.3,473.5 L891.2,470.9 L894.0,468.2 L896.6,465.4 L899.0,462.5 L901.2,459.6 L903.4,456.6 L905.4,453.5 L907.3,450.4 L909.2,447.3 L911.0,444.1 L912.8,440.9 L914.6,437.8 L916.4,434.6 L918.3,431.4 L920.3,428.2 L922.3,425.1 L924.6,422.0 L927.0,419.0 L929.7,416.3 L932.5,413.6 L935.4,411.0 L938.4,408.4 L941.5,405.8 L944.7,403.3 L947.9,400.8 L951.2,398.4 L954.6,396.1 L958.1,393.8 L961.5,391.6 L965.0,389.5 L968.6,387.4 L972.2,385.5 L975.7,383.6 L979.3,381.8 L982.9,380.0 L986.5,378.4 L990.1,376.9 L993.6,375.4 L997.1,374.1 L1000.6,372.8 L1004.1,371.7 L1007.6,370.6 L1011.5,369.7 L1015.4,368.9 L1019.4,368.2 L1023.4,367.7 L1027.3,367.4 L1031.3,367.1 L1035.2,367.0 L1039.0,367.0 L1042.8,367.2 L1046.5,367.4 L1050.1,367.8 L1053.6,368.2 L1057.0,368.8 L1060.3,369.4 L1063.4,370.1 L1066.4,370.9 L1069.2,371.7 L1071.8,372.6 L1074.2,373.6 L1076.4,374.6 L1078.4,375.7 L1080.0,376.8 L1081.4,377.9 L1082.7,379.0" stroke="#0d9d97" stroke-width="5.8" fill="none" stroke-linecap="round" stroke-linejoin="round"/>
<circle cx="609.8" cy="480" r="12" fill="url(#gorsm)"/>
<path d="M598.0,382.9 C603.3,382.9 609.4,382.2 614.0,384.0 C618.6,385.8 623.1,388.7 625.5,393.4 C627.9,398.1 628.2,404.2 628.5,412.0 C628.8,419.8 628.7,431.7 627.0,440.3 C625.3,448.9 621.6,457.1 618.4,463.7 C615.2,470.3 611.5,476.5 608.0,480.0 C604.5,483.5 600.8,484.8 597.3,484.8 C593.8,484.8 589.9,483.5 587.0,480.0 C584.1,476.5 582.2,470.3 579.8,463.7 C577.4,457.1 574.7,448.9 572.7,440.3 C570.7,431.7 568.4,419.8 568.0,412.0 C567.6,404.2 568.1,398.1 570.4,393.4 C572.7,388.7 577.4,385.8 582.0,384.0 C586.6,382.2 592.7,382.9 598.0,382.9 Z" fill="url(#ppb)"/>
<path d="M652.0,382.9 C657.2,382.9 663.6,382.2 668.0,384.0 C672.4,385.8 676.3,388.2 678.5,393.4 C680.7,398.6 681.2,407.2 681.0,415.0 C680.8,422.8 678.8,432.2 677.0,440.3 C675.2,448.4 672.7,457.2 670.0,463.7 C667.3,470.1 664.1,475.5 661.0,479.0 C657.9,482.5 654.4,484.8 651.2,484.8 C648.0,484.8 644.7,482.5 642.0,479.0 C639.3,475.5 637.2,470.1 634.8,463.7 C632.4,457.2 629.5,448.4 627.8,440.3 C626.0,432.2 624.4,422.8 624.3,415.0 C624.2,407.2 624.9,398.6 627.0,393.4 C629.1,388.2 632.8,385.8 637.0,384.0 C641.2,382.2 646.8,382.9 652.0,382.9 Z" fill="url(#ppo)"/>
<ellipse cx="598" cy="428" rx="15.6" ry="13.7" fill="url(#gpink)"/>
<ellipse cx="650.3" cy="428" rx="15.2" ry="13.7" fill="url(#gblu)"/>
<path d="M563,489 Q572,491 577,498 M605,483 Q612,488 612.7,498" stroke="#f5a800" stroke-width="4.2" fill="none"/>
<path d="M616.6,490 Q625,492 628.3,499 M656.6,483 Q665,484 665.4,499" stroke="#4a2412" stroke-width="4.2" fill="none"/>
<circle cx="553" cy="479" r="16" fill="url(#gsph)"/>
<path d="M567,497 Q592,494 619.5,497 C619.5,515 606,525 593,525 C579,525 567,515 567,497 Z" fill="url(#gbowlb)"/>
<path d="M618.5,498 Q645,495 672.2,498 C672.2,516 659,526 645,526 C631,526 618.5,516 618.5,498 Z" fill="url(#gbowlo)"/>
<path d="M801.3,340.8 L879.3,333.4" stroke="#7a2389" stroke-width="3"/>
<path d="M803.5,342.0 l0.8,9 M811.7,341.2 l0.8,9 M819.8,340.4 l0.8,9 M828.0,339.5 l0.8,9 M836.2,338.7 l0.8,9 M844.3,337.9 l0.8,9 M852.5,337.1 l0.8,9 M860.7,336.2 l0.8,9 M868.8,335.4 l0.8,9 M877.0,334.6 l0.8,9" stroke="#f0107e" stroke-width="4"/>
<path d="M897.6,362.3 L958,291.2" stroke="#7a2389" stroke-width="3"/>
<path d="M888,354 L908,332 C898,333 891,326 891,318 C891,310 897,305 904.5,305 C912,305 918,311 918,318 C918,320 919.5,321 921,320 L949.6,284.2" stroke="#f0107e" stroke-width="3" fill="none"/>
<path d="M891.2,350.5 l6.9,5.8 M895.8,345.5 l6.9,5.8 M900.2,340.5 l6.9,5.8 M904.8,335.5 l6.9,5.8 M924.2,316.2 l6.9,5.8 M928.5,310.8 l6.9,5.8 M932.8,305.2 l6.9,5.8 M937.2,299.8 l6.9,5.8 M941.5,294.2 l6.9,5.8 M945.8,288.8 l6.9,5.8" stroke="#f0107e" stroke-width="3.8"/>
<path d="M864,479 L876.5,508.7 M885.7,468 L905,497.6 M906,455 L927.2,477.2" stroke="#e81a30" stroke-width="2"/>
<circle cx="876.5" cy="508.7" r="13" fill="url(#gMe)"/><text x="876.5" y="514.0" style="font-size:15.5px" text-anchor="middle">Me</text>
<circle cx="905" cy="497.6" r="13" fill="url(#gMe)"/><text x="905" y="502.9" style="font-size:15.5px" text-anchor="middle">Me</text>
<circle cx="927.2" cy="477.2" r="13" fill="url(#gMe)"/><text x="927.2" y="482.5" style="font-size:15.5px" text-anchor="middle">Me</text>
<circle cx="864" cy="479" r="9.5" fill="url(#gW)" stroke="#222" stroke-width="1.2"/><text x="864" y="484.1" style="font-size:15px" text-anchor="middle">C</text>
<circle cx="885.7" cy="468" r="9.5" fill="url(#gW)" stroke="#222" stroke-width="1.2"/><text x="885.7" y="473.1" style="font-size:15px" text-anchor="middle">C</text>
<circle cx="906" cy="455" r="9.5" fill="url(#gW)" stroke="#222" stroke-width="1.2"/><text x="906" y="460.1" style="font-size:15px" text-anchor="middle">C</text>
</g>
<g id="liver">
<defs>
<linearGradient id="bile" x1="0" y1="0" x2="0" y2="1"><stop offset="0" stop-color="#f9a24c"/><stop offset="0.55" stop-color="#e8913e"/><stop offset="1" stop-color="#8a5424"/></linearGradient>
</defs>
<path d="M409,775 C411,767 414,765 421,765 L427,780 C429,788 432,795 434,806 L420,806 C418,795 414,788 411,782 Z" fill="#0c76c0"/>
<path d="M421,765 C424,765 426,766 427,770 C429,780 434,792 436,806 L430,806 C428,795 424,784 421,775 Z" fill="#0a5c9c"/>
<path d="M425,773 C427,767 432,765 438,764 L441,764 C444,770 448,785 451,806 L436,806 C434,795 430,784 425,773 Z" fill="#d81b25"/>
<path d="M441,764 C444,770 448,785 451,806 L445,806 C443,792 440,776 437,768 Z" fill="#b0182a"/>
<path d="M413,872 L424,872 C425,895 426,920 425,938 L412,938 C411,920 412,895 413,872 Z" fill="#0c76c0"/>
<path d="M420,872 L424,872 C425,895 426,920 425,938 L420,938 Z" fill="#0a5c9c"/>
<path d="M425,872 L436,872 C440,895 444,920 443.8,938 L428,938 C428,920 427,895 425,872 Z" fill="#d81b25"/>
<path d="M436,872 C440,895 444,920 443.8,938 L438,938 C438,920 435,895 432,872 Z" fill="#b0182a"/>
<ellipse cx="418.5" cy="937.5" rx="6" ry="2.2" fill="#6fb0d8"/><ellipse cx="436" cy="937.5" rx="7" ry="2.2" fill="#f0a0a8"/>
<path d="M398,893 C404,898 412,898 427,897.5" stroke="#d81b25" stroke-width="3.5" fill="none"/>
<path d="M347.7,921 C354,914 364,907 374,902 L381,902 C382,912 378,920 370,923 C360,925 352,925 347.7,921 Z" fill="#0a7a32"/>
<path d="M374,904 C378,915 382,928 381.5,938 C380,942 375,942 374,938 C373,926 372,915 371,904 Z" fill="#003d12"/>
<path d="M269.5,932 C271,918 273,905 275,897.8 C277,880 279,866 286.6,840.3 C292,826 300,815 319,807 C328,804 336,803.5 345.9,803.5 L380,802.6 L487.8,800.8 C491,802 491,803 490.5,806 C490,815 489,820 487.8,826 C485,836 482,842 477,847.5 C470,855 462,860 453.7,865.5 C445,872 436,878 426.7,883.4 C412,892 400,897 390.8,901.4 C380,906 372,910 363.8,914 C355,918 348,922 340.5,924.8 C333,928 326,930 319,932 C308,934 300,935.5 292,935.5 C283,935 276,934 269.5,932 Z" fill="#e02626"/>
<path d="M269.5,932 L270.4,923 C280,921 286,919.5 292,918.5 C303,917 313,914 322.5,912.2 C332,909 341,905 349.5,901.4 C358,896 365,890 372.8,885.2 C385,878 397,875 408.75,870.9 C421,866 433,859 444.7,852.9 C454,848 461,843 466.3,836.7 C472,830 477,820 480.6,813.4 C483,808 485,804 487.8,801.7 L490.5,806 C490,815 489,820 487.8,826 C485,836 482,842 477,847.5 C470,855 462,860 453.7,865.5 C445,872 436,878 426.7,883.4 C412,892 400,897 390.8,901.4 C380,906 372,910 363.8,914 C355,918 348,922 340.5,924.8 C333,928 326,930 319,932 C308,934 300,935.5 292,935.5 C283,935 276,934 269.5,932 Z" fill="#b00e0a"/>
<path d="M287.5,866.4 C290,848 298,834 314,823 C320,819 326,819 324,823 C312,834 298,848 287.5,866.4 Z" fill="#ee7b7b"/>
<circle cx="334.2" cy="818.75" r="4.4" fill="#ee7b7b"/>
<path d="M377.3,801 C381,797 388,797 394,799 C399,801 403,800 407,797 C411,795 416,796 418,799 C419,803 414,806 409,806 C403,806 401,808 400,812 L396,812 C395,807 391,806 386,806 C381,806 377,804 377.3,801 Z" fill="#f9a24c"/>
<path d="M398,806 C394,818 393,835 398,852 C402,866 410,878 415,888 C418,896 419,904 424,910 C427,912 431,912 434,912" stroke="url(#bile)" stroke-width="6.5" fill="none" stroke-linecap="round"/>
</g>
<g id="diab">
<defs><radialGradient id="sb" cx="634.4" cy="798.4" r="90" gradientUnits="userSpaceOnUse" gradientTransform="translate(634.4 798.4) scale(1 0.69) translate(-634.4 -798.4)">
<stop offset="0" stop-color="#ffffff"/><stop offset="0.38" stop-color="#fff6e8"/><stop offset="0.6" stop-color="#fde0ac"/><stop offset="0.76" stop-color="#fbc76c"/><stop offset="1" stop-color="#f8b030"/></radialGradient></defs>
<path d="M699.2,795.5 Q707.2,797.7 718.5,798.4 Q707.2,799.1 699.2,801.3 Q706.6,804.3 715.5,806.5 Q706.3,805.6 697.9,807.1 Q704.5,810.7 718.9,815.6 Q704.0,812.0 695.3,812.7 Q701.0,816.9 708.1,821.7 Q700.2,818.1 691.4,818.0 Q696.2,822.7 707.3,830.9 Q695.1,823.8 686.4,823.0 Q690.1,828.0 698.3,836.8 Q688.7,829.0 680.4,827.4 Q682.9,832.7 687.3,840.7 Q681.3,833.5 673.4,831.2 Q674.6,836.7 681.1,848.7 Q672.9,837.4 665.6,834.4 Q665.6,839.9 667.9,849.2 Q663.7,840.4 657.1,836.8 Q655.9,842.3 658.5,855.2 Q653.9,842.6 648.2,838.5 Q645.8,843.8 645.9,853.9 Q643.7,843.9 639.0,839.3 Q635.4,844.3 634.4,854.7 Q633.4,844.3 629.8,839.3 Q625.1,843.9 622.3,856.9 Q623.0,843.8 620.6,838.5 Q614.9,842.6 609.0,858.4 Q612.9,842.3 611.7,836.8 Q605.1,840.4 600.5,849.9 Q603.2,839.9 603.2,834.4 Q595.9,837.4 589.6,846.7 Q594.2,836.7 595.4,831.2 Q587.5,833.5 576.9,844.4 Q585.9,832.7 588.4,827.4 Q580.1,829.0 565.1,840.1 Q578.7,828.0 582.4,823.0 Q573.7,823.8 561.1,831.1 Q572.6,822.7 577.4,818.0 Q568.6,818.1 557.1,822.9 Q567.8,816.9 573.5,812.7 Q564.8,812.0 546.0,816.4 Q564.3,810.7 570.9,807.1 Q562.5,805.6 554.6,806.4 Q562.2,804.3 569.6,801.3 Q561.6,799.1 543.7,798.4 Q561.6,797.7 569.6,795.5 Q562.2,792.5 551.6,790.1 Q562.5,791.2 570.9,789.7 Q564.3,786.1 555.9,782.4 Q564.8,784.8 573.5,784.1 Q567.8,779.9 560.2,774.9 Q568.6,778.7 577.4,778.8 Q572.6,774.1 563.8,767.0 Q573.7,773.0 582.4,773.8 Q578.7,768.8 566.3,757.5 Q580.1,767.8 588.4,769.4 Q585.9,764.1 580.5,755.3 Q587.5,763.3 595.4,765.6 Q594.2,760.1 587.2,747.5 Q595.9,759.4 603.2,762.4 Q603.2,756.9 597.9,742.9 Q605.1,756.4 611.7,760.0 Q612.9,754.5 610.5,742.1 Q614.9,754.2 620.6,758.3 Q623.0,753.0 622.0,738.8 Q625.1,752.9 629.8,757.5 Q633.4,752.5 634.4,742.4 Q635.4,752.5 639.0,757.5 Q643.7,752.9 645.9,743.0 Q645.8,753.0 648.2,758.3 Q653.9,754.2 657.7,743.5 Q655.9,754.5 657.1,760.0 Q663.7,756.4 671.1,742.6 Q665.6,756.9 665.6,762.4 Q672.9,759.4 680.5,748.6 Q674.6,760.1 673.4,765.6 Q681.3,763.3 689.4,754.4 Q682.9,764.1 680.4,769.4 Q688.7,767.8 700.4,758.8 Q690.1,768.8 686.4,773.8 Q695.1,773.0 706.5,766.3 Q696.2,774.1 691.4,778.8 Q700.2,778.7 710.6,774.3 Q701.0,779.9 695.3,784.1 Q704.0,784.8 720.6,780.8 Q704.5,786.1 697.9,789.7 Q706.3,791.2 722.2,789.7 Q706.6,792.5 699.2,795.5 Z" fill="url(#sb)"/>
<ellipse cx="634.4" cy="798.4" rx="67" ry="43" fill="url(#sb)"/>
</g>
<g id="adip">
<defs>
<radialGradient id="fatb" cx="0.5" cy="0.58" r="0.55"><stop offset="0" stop-color="#e0f2f6"/><stop offset="0.3" stop-color="#eedc4c"/><stop offset="0.68" stop-color="#f0b00e"/><stop offset="1" stop-color="#ee8600"/></radialGradient>
<radialGradient id="fatr" cx="0.5" cy="0.5" r="0.5"><stop offset="0.9" stop-color="#f88446"/><stop offset="1" stop-color="#ee4e14"/></radialGradient>
<linearGradient id="fatn" x1="0" y1="0" x2="0" y2="1"><stop offset="0" stop-color="#c8ac88"/><stop offset="0.6" stop-color="#b09070"/><stop offset="1" stop-color="#7a5a30"/></linearGradient>
</defs>
<ellipse cx="857.8" cy="818.8" rx="36.6" ry="36.6" fill="url(#fatr)"/>
<ellipse cx="857.8" cy="818.8" rx="31.6" ry="31.6" fill="url(#fatb)"/>
<path d="M830.7,802.5 L832.5,799.8 L834.6,797.3 L836.9,795.1 L839.5,793.0 L842.2,791.3 L845.1,789.8 L848.2,788.7 L851.3,787.9 L854.6,787.4 L857.8,787.2 L861.0,787.4 L864.3,787.9 L867.4,788.7 L870.5,789.8 L873.4,791.3 L876.1,793.0 L878.7,795.1 L881.0,797.3 L883.1,799.8 L884.9,802.5 Q859.4,807.4 830.7,802.5 Z" fill="#ffd8c0" fill-opacity="0.38"/>
<ellipse cx="856.2" cy="797.5" rx="13.5" ry="9.1" transform="rotate(-15 855 796)" fill="#ffe6c8"/>
<ellipse cx="854.5" cy="795.7" rx="10.5" ry="6.5" transform="rotate(-15 855 796)" fill="url(#fatn)"/>
<ellipse cx="978" cy="848" rx="39" ry="40" fill="url(#fatr)"/>
<ellipse cx="978" cy="848" rx="34" ry="35" fill="url(#fatb)"/>
<path d="M948.9,830.0 L950.8,827.0 L953.1,824.2 L955.6,821.7 L958.3,819.5 L961.3,817.5 L964.4,815.9 L967.7,814.7 L971.0,813.7 L974.5,813.2 L978.0,813.0 L981.5,813.2 L985.0,813.7 L988.3,814.7 L991.6,815.9 L994.7,817.5 L997.7,819.5 L1000.4,821.7 L1002.9,824.2 L1005.2,827.0 L1007.1,830.0 Q979.7,835.4 948.9,830.0 Z" fill="#ffd8c0" fill-opacity="0.38"/>
<ellipse cx="990.2" cy="823.5" rx="13.5" ry="9.6" transform="rotate(30 989 822)" fill="#ffe6c8"/>
<ellipse cx="988.5" cy="821.7" rx="10.5" ry="7" transform="rotate(30 989 822)" fill="url(#fatn)"/>
<ellipse cx="836.7" cy="861" rx="48.3" ry="46" fill="url(#fatr)"/>
<ellipse cx="836.7" cy="861" rx="43.3" ry="41" fill="url(#fatb)"/>
<path d="M799.6,839.9 L802.1,836.4 L804.9,833.1 L808.1,830.2 L811.6,827.6 L815.4,825.3 L819.4,823.4 L823.5,821.9 L827.8,820.9 L832.2,820.2 L836.7,820.0 L841.2,820.2 L845.6,820.9 L849.9,821.9 L854.0,823.4 L858.0,825.3 L861.8,827.6 L865.3,830.2 L868.5,833.1 L871.3,836.4 L873.8,839.9 Q838.9,846.2 799.6,839.9 Z" fill="#ffd8c0" fill-opacity="0.38"/>
<ellipse cx="823.2" cy="835.5" rx="15.5" ry="11.1" transform="rotate(-30 822 834)" fill="#ffe6c8"/>
<ellipse cx="821.5" cy="833.7" rx="12.5" ry="8.5" transform="rotate(-30 822 834)" fill="url(#fatn)"/>
<ellipse cx="925.3" cy="837.5" rx="50.6" ry="50.6" fill="url(#fatr)"/>
<ellipse cx="925.3" cy="837.5" rx="45.6" ry="45.6" fill="url(#fatb)"/>
<path d="M886.2,814.0 L888.8,810.1 L891.8,806.5 L895.2,803.2 L898.9,800.3 L902.8,797.8 L907.0,795.7 L911.4,794.1 L916.0,792.9 L920.6,792.1 L925.3,791.9 L930.0,792.1 L934.6,792.9 L939.2,794.1 L943.6,795.7 L947.8,797.8 L951.7,800.3 L955.4,803.2 L958.8,806.5 L961.8,810.1 L964.4,814.0 Q927.6,821.1 886.2,814.0 Z" fill="#ffd8c0" fill-opacity="0.38"/>
<ellipse cx="919.7" cy="804.5" rx="16.5" ry="10.6" transform="rotate(10 918.5 803)" fill="#ffe6c8"/>
<ellipse cx="918.0" cy="802.7" rx="13.5" ry="8" transform="rotate(10 918.5 803)" fill="url(#fatn)"/>
<ellipse cx="863.5" cy="901.7" rx="37.5" ry="37" fill="url(#fatr)"/>
<ellipse cx="863.5" cy="901.7" rx="32.5" ry="32" fill="url(#fatb)"/>
<path d="M835.6,885.2 L837.5,882.5 L839.7,880.0 L842.0,877.7 L844.7,875.6 L847.5,873.8 L850.5,872.4 L853.6,871.2 L856.9,870.4 L860.2,869.9 L863.5,869.7 L866.8,869.9 L870.1,870.4 L873.4,871.2 L876.5,872.4 L879.5,873.8 L882.3,875.6 L885.0,877.7 L887.3,880.0 L889.5,882.5 L891.4,885.2 Q865.1,890.2 835.6,885.2 Z" fill="#ffd8c0" fill-opacity="0.38"/>
<ellipse cx="860.2" cy="879.5" rx="14" ry="9.6" transform="rotate(-10 859 878)" fill="#ffe6c8"/>
<ellipse cx="858.5" cy="877.7" rx="11" ry="7" transform="rotate(-10 859 878)" fill="url(#fatn)"/>
<ellipse cx="931.3" cy="889.5" rx="48" ry="46.5" fill="url(#fatr)"/>
<ellipse cx="931.3" cy="889.5" rx="43" ry="41.5" fill="url(#fatb)"/>
<path d="M894.4,868.1 L896.9,864.6 L899.7,861.3 L902.9,858.3 L906.4,855.7 L910.1,853.4 L914.1,851.5 L918.2,850.0 L922.5,848.9 L926.9,848.2 L931.3,848.0 L935.7,848.2 L940.1,848.9 L944.4,850.0 L948.5,851.5 L952.5,853.4 L956.2,855.7 L959.7,858.3 L962.9,861.3 L965.7,864.6 L968.2,868.1 Q933.4,874.6 894.4,868.1 Z" fill="#ffd8c0" fill-opacity="0.38"/>
<ellipse cx="933.2" cy="859.0" rx="16.5" ry="10.6" transform="rotate(10 932 857.5)" fill="#ffe6c8"/>
<ellipse cx="931.5" cy="857.2" rx="13.5" ry="8" transform="rotate(10 932 857.5)" fill="url(#fatn)"/>
</g>
<!-- BLUE ARROWS -->
<g fill="#045e96">
<polygon points="468,242.8 495,257.8 487.5,262.8 549.9,368.1 540.2,373.9 476.5,269 468.4,273.7"/>
<polygon points="771.8,243.7 744.8,258.6 752.1,263.2 689.7,368.6 699.5,374.4 762.7,270.3 771.3,274.5"/>
<polygon points="540,631 550.7,637.3 487.3,742.6 495,747.6 467.9,762.7 468.3,732 476.8,736.6"/>
<polygon points="692.4,636.4 702.2,630.5 766,736.3 774.4,731.2 774.8,762 747.3,747.3 755.4,742.6"/>
</g>
<!-- BLACK ARROWS -->
<g fill="#000">
<polygon points="499.3,844.9 535.2,821.5 529.6,818.4 544.9,817.8 537.6,831.5 537.3,826.3 501.5,849.3"/>
<polygon points="772.6,840 736.5,816.8 742.2,814 727,813.2 734.4,826.5 734.3,821.4 770.4,844.4"/>
</g>

<!-- BOXES -->
<rect class="bx" x="72.4" y="67.2" width="220.5" height="167.55"/>
<rect class="bx" x="979.4" y="78.2" width="235.5" height="144.6"/>
<rect class="bx" x="1.2" y="771.7" width="254.8" height="169.3"/>
<rect class="bx" x="500.8" y="878.8" width="264.7" height="145"/>
<rect class="bx" x="1021.2" y="784.4" width="256.9" height="170.4"/>

<!-- BOX TEXT -->
<g class="t">
<text x="79.5" y="90.90" textLength="202.2" lengthAdjust="spacingAndGlyphs">- Anti-tumourogenic</text>
<text x="91.25" y="117.45" textLength="60.5" lengthAdjust="spacingAndGlyphs">effects</text>
<text x="79.5" y="144.00" textLength="207.1" lengthAdjust="spacingAndGlyphs">- Orchestrate miRNA</text>
<text x="96.1" y="170.55" textLength="104.5" lengthAdjust="spacingAndGlyphs">expression</text>
<text x="79.5" y="197.10" textLength="183.6" lengthAdjust="spacingAndGlyphs">- Correct oncogene</text>
<text x="96.1" y="223.65" textLength="86.9" lengthAdjust="spacingAndGlyphs">silencing</text>

<text x="987.0" y="101.70" textLength="199.9" lengthAdjust="spacingAndGlyphs">- Anti-fibrotic effects</text>
<text x="987.0" y="128.22" textLength="214.2" lengthAdjust="spacingAndGlyphs">- Control immune cell</text>
<text x="998.2" y="154.74" textLength="95.3" lengthAdjust="spacingAndGlyphs">activation</text>
<text x="987.0" y="181.26" textLength="215.2" lengthAdjust="spacingAndGlyphs">- Avoid auto-antibody</text>
<text x="998.2" y="207.78" textLength="107.9" lengthAdjust="spacingAndGlyphs">production</text>

<text x="10.5" y="799.00" textLength="238.4" lengthAdjust="spacingAndGlyphs">- Control hepatic stellate</text>
<text x="10.5" y="825.54" textLength="134" lengthAdjust="spacingAndGlyphs">cell activation</text>
<text x="10.5" y="852.08" textLength="196.2" lengthAdjust="spacingAndGlyphs">- Anti-inflammatory</text>
<text x="21.8" y="878.62" textLength="215.5" lengthAdjust="spacingAndGlyphs">and anti-fibrotic effect</text>
<text x="10.5" y="905.16" textLength="195.2" lengthAdjust="spacingAndGlyphs">- Regulation of lipid</text>
<text x="21.8" y="931.70" textLength="66.8" lengthAdjust="spacingAndGlyphs">uptake</text>

<text x="508.8" y="906.60" textLength="246.2" lengthAdjust="spacingAndGlyphs">- Avoid insulin resistance</text>
<text x="508.8" y="933.30" textLength="225.9" lengthAdjust="spacingAndGlyphs">- Control inflammatory</text>
<text x="520.0" y="960.00" textLength="221.5" lengthAdjust="spacingAndGlyphs">macrophage activation</text>
<text x="508.8" y="986.70" textLength="224.7" lengthAdjust="spacingAndGlyphs">- Modulate obesity and</text>
<text x="519.9" y="1013.40" textLength="198.9" lengthAdjust="spacingAndGlyphs">metabolic syndrome</text>

<text x="1029.3" y="812.00" textLength="242.2" lengthAdjust="spacingAndGlyphs">- Regulate: adipogenesis,</text>
<text x="1046.2" y="838.57" textLength="134.7" lengthAdjust="spacingAndGlyphs">pre-adipocyte</text>
<text x="1045.2" y="865.14" textLength="182.1" lengthAdjust="spacingAndGlyphs">differentiation and</text>
<text x="1045.2" y="891.71" textLength="109.3" lengthAdjust="spacingAndGlyphs">lipogenesis</text>
<text x="1026.2" y="918.28" textLength="225.3" lengthAdjust="spacingAndGlyphs">- Modulate obesity and</text>
<text x="1043.0" y="944.85" textLength="199.0" lengthAdjust="spacingAndGlyphs">metabolic syndrome</text>

</g>

<!-- HEADINGS -->
<g class="h">
<text x="354.4" y="26.9" textLength="129.3" lengthAdjust="spacingAndGlyphs">CANCER</text>
<text x="685.3" y="27.3" textLength="252.7" lengthAdjust="spacingAndGlyphs">AUTOIMMUNITY</text>
<text x="328" y="720.6" textLength="87.6" lengthAdjust="spacingAndGlyphs">LIVER</text>
<text x="301.2" y="757.3" textLength="140.3" lengthAdjust="spacingAndGlyphs">DISEASES</text>
<text x="786.4" y="720.6" textLength="241.6" lengthAdjust="spacingAndGlyphs">ADIPOSE TISSUE</text>
<text x="837.8" y="756.7" textLength="139.6" lengthAdjust="spacingAndGlyphs">DISEASES</text>
<text x="522" y="581.4" textLength="225.2" lengthAdjust="spacingAndGlyphs">PPAR-RELATED</text>
<text x="543.3" y="616.5" textLength="195.1" lengthAdjust="spacingAndGlyphs">EPIGENETICS</text>
</g>
<text x="567.3" y="373.6" textLength="116.4" lengthAdjust="spacingAndGlyphs" style="font-size:24.5px">PPAR/RXR</text>
<text x="818.8" y="381.5" textLength="74.6" lengthAdjust="spacingAndGlyphs" style="font-size:22px">ncRNAs</text>
<!--DIABETES-->
<text x="562.2" y="808.75" textLength="145.3" lengthAdjust="spacingAndGlyphs" style="font-size:30px">DIABETES</text>
</svg>
</body></html>
